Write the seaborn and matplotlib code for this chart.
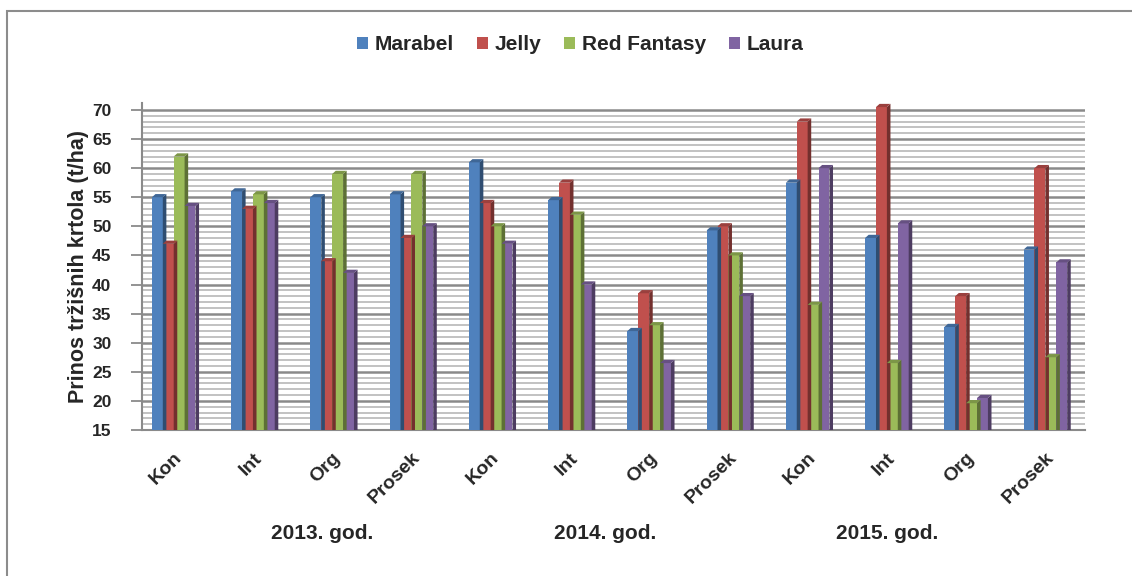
import numpy as np
import pandas as pd
import seaborn as sns
import matplotlib.pyplot as plt
from matplotlib.patches import Polygon, Rectangle
from matplotlib.colors import to_rgb

sns.set_style("white")
plt.rcParams['font.family'] = ['Liberation Sans', 'DejaVu Sans']

# data
treatments = ["Kon", "Int", "Org", "Prosek"]
years = ["2013. god.", "2014. god.", "2015. god."]
varieties = ["Marabel", "Jelly", "Red Fantasy", "Laura"]

marabel = [55.0, 56.0, 55.0, 55.5, 61.0, 54.5, 32.0, 49.3, 57.5, 48.0, 32.7, 46.0]
jelly = [47.0, 53.0, 44.0, 48.0, 54.0, 57.5, 38.5, 50.0, 68.0, 70.5, 38.0, 60.0]
red_fantasy = [62.0, 55.5, 59.0, 59.0, 50.0, 52.0, 33.0, 45.0, 36.5, 26.5, 19.6, 27.5]
laura = [53.5, 54.0, 42.0, 50.0, 47.0, 40.0, 26.5, 38.0, 60.0, 50.5, 20.5, 43.8]

colors = ["#4F81BD", "#C0504D", "#9BBB59", "#8064A2"]

cats = [f"{t}|{y}" for y in years for t in treatments]
df = pd.DataFrame({
    "cat": cats * 4,
    "sorta": np.repeat(varieties, len(cats)),
    "prinos": marabel + jelly + red_fantasy + laura,
})

fig = plt.figure(figsize=(11.32, 5.76), dpi=100)
# axes top a little above the 70 line, like the 3D wall in the original
ax = fig.add_axes([142 / 1132, 1 - 430 / 576, (1085 - 142) / 1132, 327 / 576])

sns.barplot(data=df, x="cat", y="prinos", hue="sorta", palette=colors,
            width=0.55, gap=0, saturation=1, errorbar=None, ax=ax,
            edgecolor="none", zorder=3)

# fake 3D: darker side and top faces, derived from the drawn bars
dx, dy = 0.045, 0.55
for rect in list(ax.patches):
    x0, y0 = rect.get_x(), rect.get_y()
    w, h = rect.get_width(), rect.get_height()
    if h <= 0:
        continue
    r, g, b = to_rgb(rect.get_facecolor())
    side = Polygon([(x0 + w, y0), (x0 + w + dx, y0 + dy), (x0 + w + dx, y0 + h + dy), (x0 + w, y0 + h)],
                   closed=True, color=(r * 0.6, g * 0.6, b * 0.6), zorder=3, lw=0)
    top = Polygon([(x0, y0 + h), (x0 + dx, y0 + h + dy), (x0 + w + dx, y0 + h + dy), (x0 + w, y0 + h)],
                  closed=True, color=(r * 0.8, g * 0.8, b * 0.8), zorder=3, lw=0)
    ax.add_patch(side)
    ax.add_patch(top)

ax.set_ylim(15, 71.2)
ax.set_xlim(-0.4, 11.5)
ax.set_yticks(np.arange(15, 71, 5))
ax.set_yticks(np.arange(15, 71, 1), minor=True)
ax.grid(axis="y", which="major", color="#8a8a8a", lw=1.8, zorder=0)
ax.grid(axis="y", which="minor", color="#b8b8b8", lw=1.2, zorder=0)
ax.set_axisbelow(True)

ax.set_xticks(range(len(cats)))
ax.set_xticklabels([t for y in years for t in treatments], rotation=45, ha="right",
                   rotation_mode="anchor", fontsize=14, fontweight="bold")
ax.tick_params(axis="x", length=0, pad=14)
ax.tick_params(axis="y", which="major", length=8, width=1.3, color="#8a8a8a", left=True,
               labelsize=12.5, pad=14)
ax.tick_params(axis="y", which="minor", length=0)
for lab in ax.get_yticklabels():
    lab.set_fontweight("bold")

ax.set_xlabel("")
ax.set_ylabel("Prinos tržišnih krtola (t/ha)", fontsize=15.5, fontweight="bold", labelpad=2)

for s in ["top", "right"]:
    ax.spines[s].set_visible(False)
ax.spines["left"].set_color("#8a8a8a")
ax.spines["bottom"].set_color("#8a8a8a")
ax.spines["left"].set_linewidth(1.5)
ax.spines["bottom"].set_linewidth(1.5)

# year group labels (positions follow the perspective of the original)
year_x = [1.87, 5.45, 9.0]
for xp, y in zip(year_x, years):
    ax.text(xp, -0.318, y, transform=ax.get_xaxis_transform(),
            ha="center", va="center", fontsize=15, fontweight="bold")

# legend at the top
handles, labels = ax.get_legend_handles_labels()
ax.legend_.remove()
fig.legend(handles, labels, loc="center", bbox_to_anchor=(580 / 1132, 1 - 45 / 576),
           ncol=4, frameon=False, handlelength=0.55, handleheight=0.55,
           handletextpad=0.3, columnspacing=1.1, prop={"size": 15, "weight": "bold"})

# chart outer frame
fig.patches.append(Rectangle((7 / 1132, -0.1), 1.2, 1 - 11 / 576 + 0.1, transform=fig.transFigure,
                             fill=False, edgecolor="#8c8c8c", lw=1.5))

fig.savefig("out.png", dpi=100)
